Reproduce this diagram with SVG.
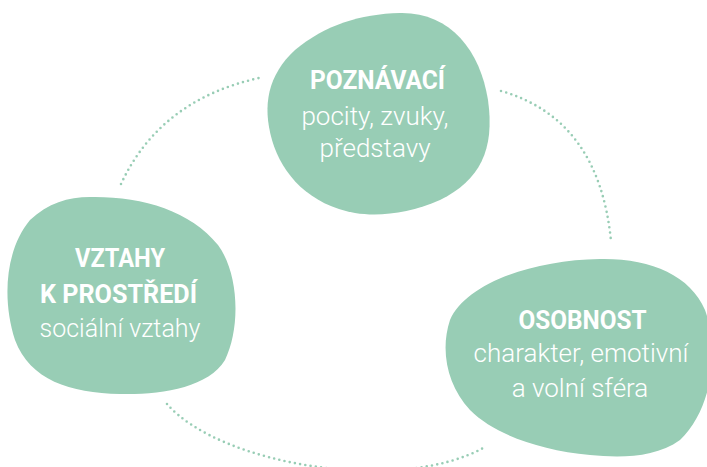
<svg xmlns="http://www.w3.org/2000/svg" width="707" height="467" viewBox="0 0 707 467">
<style>
.blob{fill:#98cdb5}
.dots{fill:none;stroke:#98cdb5;stroke-width:2.6;stroke-linecap:round;stroke-dasharray:0 5.3}
text{fill:#ffffff;font-family:Roboto,"Liberation Sans",sans-serif;text-anchor:middle}
.b{font-weight:700;font-size:26px}
.r{font-weight:300;font-size:26px}
</style>
<rect width="707" height="467" fill="#ffffff"/>
<g id="connectors">
<path class="dots" d="M121,184 Q160,100 259,78"/>
<path class="dots" d="M501,91 Q599,119 611,241"/>
<path class="dots" d="M167,404 C220,465 400,495 485,447"/>
</g>
<g id="node-poznavaci">
<path class="blob" d="M400,13 C450,12 480,50 488,100 C495,150 480,180 440,200 C410,213 380,217 355,213 C310,205 282,175 272,140 C262,105 268,75 295,50 C325,25 360,14 400,13 Z"/>
<text class="b" x="377.5" y="89" textLength="135" lengthAdjust="spacingAndGlyphs">POZNÁVACÍ</text>
<text class="r" x="375" y="125">pocity, zvuky,</text>
<text class="r" x="375" y="157">představy</text>
</g>
<g id="node-vztahy">
<path class="blob" d="M90,197 C140,196 190,210 218,245 C240,275 240,330 225,360 C208,388 160,395 120,394 C70,393 30,380 15,340 C2,300 5,250 30,220 C48,203 68,197 90,197 Z"/>
<text class="b" x="120" y="267" font-size="25" textLength="90" lengthAdjust="spacingAndGlyphs">VZTAHY</text>
<text class="b" x="118.5" y="303" font-size="25" textLength="157" lengthAdjust="spacingAndGlyphs">K PROSTŘEDÍ</text>
<text class="r" x="120" y="337" style="font-size:25px">sociální vztahy</text>
</g>
<g id="node-osobnost">
<path class="blob" d="M600,259 C650,258 690,275 705,310 C720,350 712,410 680,440 C655,458 620,458 590,455 C540,450 495,435 470,410 C447,385 440,350 450,320 C465,285 530,260 600,259 Z"/>
<text class="b" x="582.5" y="329" textLength="128" lengthAdjust="spacingAndGlyphs">OSOBNOST</text>
<text class="r" x="581" y="362">charakter, emotivní</text>
<text class="r" x="580" y="397">a volní sféra</text>
</g>
</svg>
